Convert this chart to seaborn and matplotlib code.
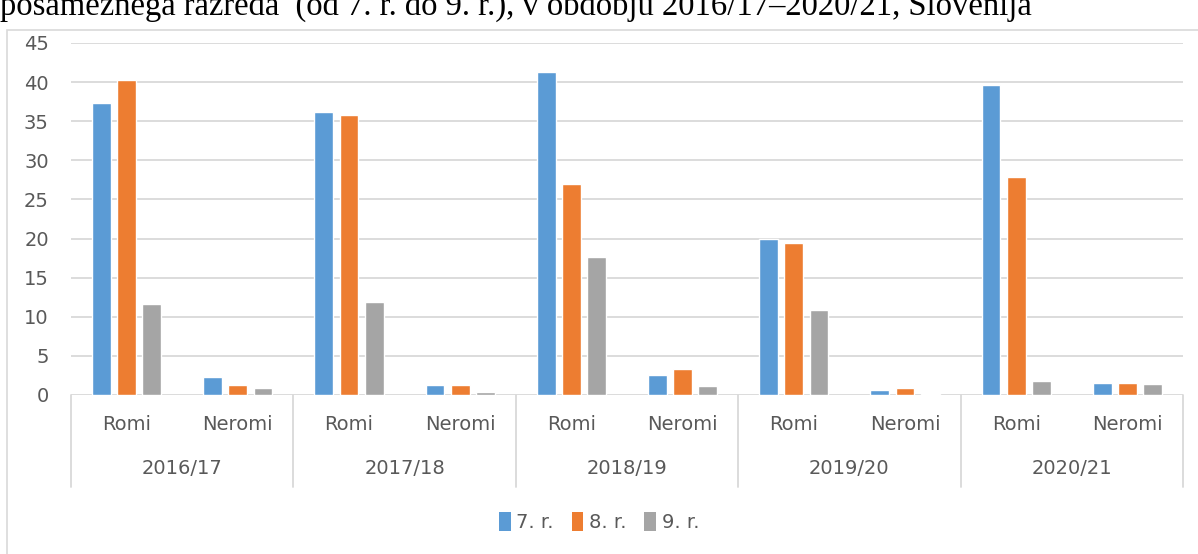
import pandas as pd
import matplotlib.pyplot as plt
import matplotlib.transforms as mtransforms
from matplotlib.patches import Patch, Rectangle
import seaborn as sns

# Data
years = ["2016/17", "2017/18", "2018/19", "2019/20", "2020/21"]
groups = ["Romi", "Neromi"]
grades = ["7. r.", "8. r.", "9. r."]

# values per year: [Romi, Neromi] for each grade
grade7 = [[37.3, 2.3], [36.2, 1.3], [41.3, 2.6], [20.0, 0.7], [39.6, 1.5]]
grade8 = [[40.3, 1.3], [35.8, 1.25], [27.0, 3.3], [19.4, 0.85], [27.9, 1.5]]
grade9 = [[11.6, 0.85], [11.9, 0.4], [17.7, 1.1], [10.9, 0.15], [1.8, 1.35]]

title_text = "posameznega razreda  (od 7. r. do 9. r.), v obdobju 2016/17–2020/21, Slovenija"

colors = ["#5B9BD5", "#ED7D31", "#A5A5A5"]
grid_color = "#D9D9D9"
text_color = "#595959"

# Build long table
rows = []
for grade, vals in zip(grades, [grade7, grade8, grade9]):
    for yi, year in enumerate(years):
        for gi, grp in enumerate(groups):
            rows.append({"cat": f"{year} {grp}", "year": year, "group": grp,
                         "grade": grade, "value": vals[yi][gi]})
df = pd.DataFrame(rows)
order = [f"{y} {g}" for y in years for g in groups]

sns.set_theme(style="white")
plt.rcParams["font.family"] = ["DejaVu Sans"]

fig = plt.figure(figsize=(11.98, 5.54), dpi=100)
ax = fig.add_axes([71 / 1198, 1 - 395 / 554, (1183 - 71) / 1198, (395 - 43) / 554])

sns.barplot(data=df, x="cat", y="value", hue="grade", order=order, hue_order=grades,
            palette=colors, width=0.68, gap=0.25, ax=ax, legend=False,
            saturation=1, errorbar=None)

ax.set_ylim(0, 45)
ax.set_xlim(-0.5, len(order) - 0.5)
ax.set_yticks(range(0, 46, 5))
ax.yaxis.grid(True, color=grid_color, linewidth=1.3)
ax.set_axisbelow(True)
for s in ax.spines.values():
    s.set_visible(False)
ax.tick_params(axis="y", length=0, pad=16, labelsize=14, labelcolor=text_color)
ax.set_xticks([])
ax.set_xlabel("")
ax.set_ylabel("")

# Multi-level category axis
trans = mtransforms.blended_transform_factory(ax.transData, ax.transAxes)
sep_bottom = -(487 - 395) / 352
for k in range(len(years) + 1):
    xs = -0.5 + 2 * k
    ax.plot([xs, xs], [0, sep_bottom], transform=trans, color=grid_color,
            lw=1.3, clip_on=False)
for i, cat in enumerate(order):
    grp = cat.split(" ")[1]
    ax.text(i, -30 / 352, grp, transform=trans, ha="center", va="center",
            fontsize=14, color=text_color)
for k, year in enumerate(years):
    ax.text(2 * k + 0.5, -73 / 352, year, transform=trans, ha="center", va="center",
            fontsize=14, color=text_color)

# Legend
handles = [Patch(facecolor=c, edgecolor="none", label=g) for c, g in zip(colors, grades)]
fig.legend(handles=handles, loc="center", bbox_to_anchor=(0.5, 1 - 522 / 554),
           ncol=3, frameon=False, fontsize=14, labelcolor=text_color,
           handlelength=0.6, handleheight=1.1, handletextpad=0.3, columnspacing=0.9)

# Chart frame
fig.patches.append(Rectangle((7 / 1198, -0.01), 1.0, 1 - 30 / 554 + 0.01,
                             transform=fig.transFigure, fill=False,
                             edgecolor=grid_color, lw=1.2))

# Caption line above the chart (cut off at the top, as in the source)
fig.text(0.0, 1 - 15 / 554, title_text, ha="left", va="baseline",
         fontsize=23.5, family="Liberation Serif", color="black")

fig.savefig("out.png", dpi=100)
